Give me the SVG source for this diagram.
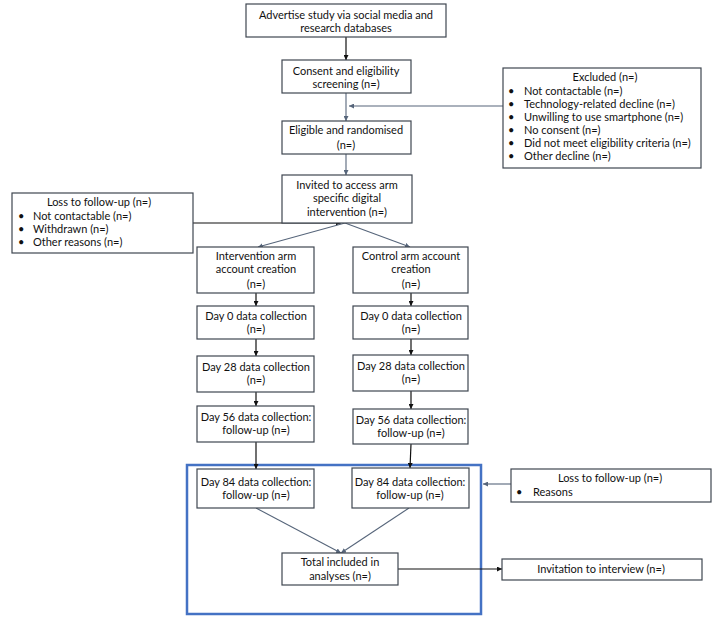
<svg xmlns="http://www.w3.org/2000/svg" width="720" height="622" viewBox="0 0 720 622">
<defs>
<style>
.box{fill:#fff;stroke:#3f4650;stroke-width:1.2}
.t{font-family:Lato,"Liberation Sans",sans-serif;font-size:11px;fill:#111}
.c{text-anchor:middle}
.k{stroke:#111;stroke-width:1.2;fill:none}
.s{stroke:#56657a;stroke-width:1.1;fill:none}
</style>
<marker id="ak" viewBox="0 0 10 10" refX="10" refY="5" markerWidth="5" markerHeight="5" orient="auto" markerUnits="userSpaceOnUse"><path d="M0,0L10,5L0,10z" fill="#111"/></marker>
<marker id="as" viewBox="0 0 10 10" refX="10" refY="5" markerWidth="5" markerHeight="5" orient="auto" markerUnits="userSpaceOnUse"><path d="M0,0L10,5L0,10z" fill="#56657a"/></marker>
</defs>
<rect width="720" height="622" fill="#fff"/>
<rect id="group-box" x="187" y="465" width="294" height="149" fill="none" stroke="#4472c4" stroke-width="2.5"/>
<g id="connectors">
<line class="k" x1="346" y1="37" x2="346" y2="60" marker-end="url(#ak)"/>
<line class="s" x1="346" y1="93" x2="346" y2="121" marker-end="url(#as)"/>
<line class="s" x1="503" y1="106" x2="349" y2="106" marker-end="url(#as)"/>
<line class="s" x1="346" y1="154" x2="346" y2="175" marker-end="url(#as)"/>
<line class="k" x1="193" y1="223" x2="341" y2="223" marker-end="url(#ak)"/>
<line class="s" x1="345" y1="223" x2="258" y2="247" marker-end="url(#as)"/>
<line class="s" x1="345" y1="223" x2="410" y2="247" marker-end="url(#as)"/>
<line class="k" x1="256" y1="293" x2="256" y2="306" marker-end="url(#ak)"/>
<line class="k" x1="256" y1="339" x2="256" y2="356" marker-end="url(#ak)"/>
<line class="k" x1="256" y1="392" x2="256" y2="406" marker-end="url(#ak)"/>
<line class="k" x1="256" y1="442" x2="256" y2="469" marker-end="url(#ak)"/>
<line class="k" x1="411" y1="293" x2="411" y2="306" marker-end="url(#ak)"/>
<line class="k" x1="411" y1="339" x2="411" y2="355" marker-end="url(#ak)"/>
<line class="k" x1="411" y1="391" x2="411" y2="409" marker-end="url(#ak)"/>
<line class="k" x1="411" y1="444" x2="410" y2="468" marker-end="url(#ak)"/>
<line class="s" x1="256" y1="508" x2="341" y2="553" marker-end="url(#as)"/>
<line class="s" x1="409" y1="508" x2="341" y2="553" marker-end="url(#as)"/>
<line class="k" x1="398" y1="569" x2="502" y2="569" marker-end="url(#ak)"/>
<line class="s" x1="511" y1="484" x2="483" y2="484" marker-end="url(#as)"/>
</g>
<g id="advertise"><rect class="box" x="246" y="4" width="200" height="33"/>
<text class="t c" x="346" y="19">Advertise study via social media and</text>
<text class="t c" x="346" y="32">research databases</text></g>
<g id="consent"><rect class="box" x="282" y="60" width="129" height="33"/>
<text class="t c" x="346" y="75">Consent and eligibility</text>
<text class="t c" x="346" y="88">screening (n=)</text></g>
<g id="excluded"><rect class="box" x="503" y="68" width="198" height="100"/>
<text class="t c" x="605" y="81">Excluded (n=)</text>
<g class="t">
<text x="508" y="95">•</text><text x="524" y="95">Not contactable (n=)</text>
<text x="508" y="108">•</text><text x="524" y="108">Technology-related decline (n=)</text>
<text x="508" y="121">•</text><text x="524" y="121">Unwilling to use smartphone (n=)</text>
<text x="508" y="134">•</text><text x="524" y="134">No consent (n=)</text>
<text x="508" y="147">•</text><text x="524" y="147">Did not meet eligibility criteria (n=)</text>
<text x="508" y="160">•</text><text x="524" y="160">Other decline (n=)</text>
</g></g>
<g id="eligible"><rect class="box" x="282" y="121" width="129" height="33"/>
<text class="t c" x="346" y="134">Eligible and randomised</text>
<text class="t c" x="346" y="149">(n=)</text></g>
<g id="invited"><rect class="box" x="282" y="175" width="130" height="48"/>
<text class="t c" x="347" y="189">Invited to access arm</text>
<text class="t c" x="347" y="202">specific digital</text>
<text class="t c" x="347" y="216">intervention (n=)</text></g>
<g id="loss1"><rect class="box" x="12" y="193" width="181" height="60"/>
<text class="t c" x="99" y="206">Loss to follow-up (n=)</text>
<g class="t">
<text x="18" y="220">•</text><text x="33" y="220">Not contactable (n=)</text>
<text x="18" y="233">•</text><text x="33" y="233">Withdrawn (n=)</text>
<text x="18" y="246">•</text><text x="33" y="246">Other reasons (n=)</text>
</g></g>
<g id="int-create"><rect class="box" x="197" y="247" width="117" height="46"/>
<text class="t c" x="256" y="260">Intervention arm</text>
<text class="t c" x="256" y="273">account creation</text>
<text class="t c" x="256" y="288">(n=)</text></g>
<g id="ctl-create"><rect class="box" x="353" y="247" width="115" height="46"/>
<text class="t c" x="411" y="260">Control arm account</text>
<text class="t c" x="411" y="273">creation</text>
<text class="t c" x="411" y="288">(n=)</text></g>
<g id="int-d0"><rect class="box" x="197" y="306" width="117" height="33"/>
<text class="t c" x="256" y="320">Day 0 data collection</text>
<text class="t c" x="256" y="333">(n=)</text></g>
<g id="ctl-d0"><rect class="box" x="353" y="306" width="115" height="33"/>
<text class="t c" x="411" y="320">Day 0 data collection</text>
<text class="t c" x="411" y="333">(n=)</text></g>
<g id="int-d28"><rect class="box" x="197" y="356" width="117" height="36"/>
<text class="t c" x="256" y="371">Day 28 data collection</text>
<text class="t c" x="256" y="384">(n=)</text></g>
<g id="ctl-d28"><rect class="box" x="353" y="355" width="115" height="36"/>
<text class="t c" x="411" y="370">Day 28 data collection</text>
<text class="t c" x="411" y="383">(n=)</text></g>
<g id="int-d56"><rect class="box" x="197" y="406" width="117" height="36"/>
<text class="t c" x="256" y="421">Day 56 data collection:</text>
<text class="t c" x="256" y="434">follow-up (n=)</text></g>
<g id="ctl-d56"><rect class="box" x="353" y="409" width="115" height="35"/>
<text class="t c" x="411" y="424">Day 56 data collection:</text>
<text class="t c" x="411" y="437">follow-up (n=)</text></g>
<g id="int-d84"><rect class="box" x="197" y="469" width="117" height="39"/>
<text class="t c" x="256" y="486">Day 84 data collection:</text>
<text class="t c" x="256" y="499">follow-up (n=)</text></g>
<g id="ctl-d84"><rect class="box" x="352" y="468" width="117" height="40"/>
<text class="t c" x="410" y="486">Day 84 data collection:</text>
<text class="t c" x="410" y="499">follow-up (n=)</text></g>
<g id="total"><rect class="box" x="282" y="553" width="116" height="32"/>
<text class="t c" x="340" y="566">Total included in</text>
<text class="t c" x="340" y="580">analyses (n=)</text></g>
<g id="loss2"><rect class="box" x="511" y="469" width="200" height="33"/>
<text class="t c" x="610" y="482">Loss to follow-up (n=)</text>
<text class="t" x="516" y="496">•</text><text class="t" x="533" y="496">Reasons</text></g>
<g id="invitation"><rect class="box" x="502" y="559" width="200" height="21"/>
<text class="t c" x="601" y="573">Invitation to interview (n=)</text></g>
</svg>
